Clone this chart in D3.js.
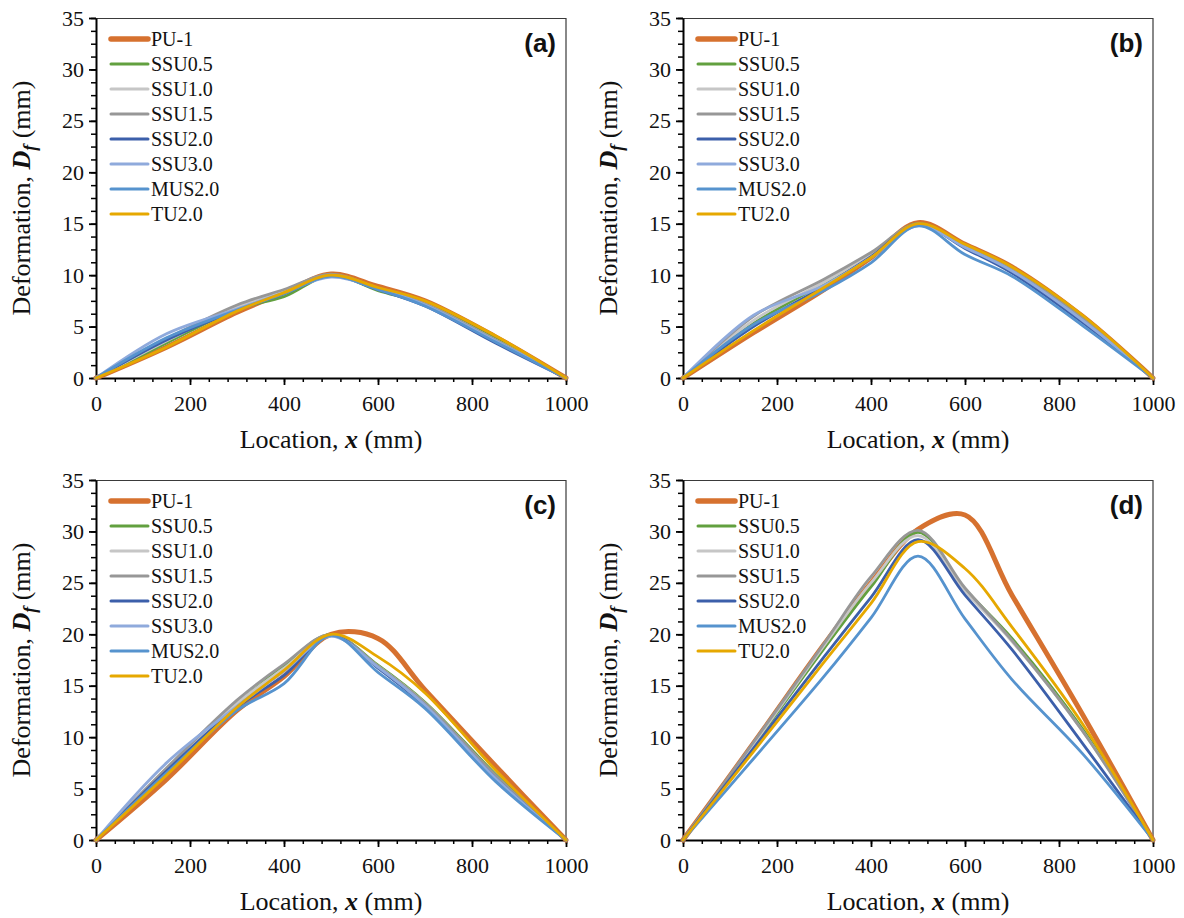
<!DOCTYPE html>
<html>
<head>
<meta charset="utf-8">
<script src="https://cdn.jsdelivr.net/npm/d3@7/dist/d3.min.js"></script>
<style>
  html, body { margin: 0; padding: 0; background: #fff; }
  svg { display: block; }
</style>
</head>
<body>
<svg id="chart" width="1184" height="918"></svg>
<script>
// Gauge locations along the specimen (mm)
const locations = [0, 150, 300, 400, 500, 600, 700, 850, 1000];

const seriesNames = ["PU-1", "SSU0.5", "SSU1.0", "SSU1.5", "SSU2.0", "SSU3.0", "MUS2.0", "TU2.0"];
const seriesColors = ["#D6712F", "#62A03F", "#C6C6C6", "#979797", "#3C5FAA", "#8FAADC", "#5693CE", "#E6A800"];

// Deformation profiles (mm), panel (a)
const panelA_PU1   = [0, 3.0, 6.4, 8.3, 10.1, 8.9, 7.5, 4.0, 0];
const panelA_SSU05 = [0, 3.4, 6.7, 7.9, 10.0, 8.5, 7.2, 3.8, 0];
const panelA_SSU10 = [0, 3.6, 6.9, 8.4, 10.0, 8.7, 7.2, 3.7, 0];
const panelA_SSU15 = [0, 3.8, 7.1, 8.6, 10.1, 8.7, 7.2, 3.7, 0];
const panelA_SSU20 = [0, 3.7, 6.6, 8.2, 9.9, 8.6, 7.0, 3.4, 0];
const panelA_SSU30 = [0, 4.3, 6.7, 8.3, 9.8, 8.7, 7.1, 3.6, 0];
const panelA_MUS20 = [0, 3.9, 6.6, 8.2, 9.9, 8.6, 7.0, 3.5, 0];
const panelA_TU20  = [0, 3.0, 6.5, 8.3, 10.0, 8.8, 7.5, 4.1, 0];

// panel (b)
const panelB_PU1   = [0, 4.4, 8.6, 11.7, 15.1, 13.0, 10.8, 6.0, 0];
const panelB_SSU05 = [0, 5.3, 9.2, 12.0, 15.0, 12.9, 10.7, 6.0, 0];
const panelB_SSU10 = [0, 5.6, 9.3, 12.0, 14.9, 12.8, 10.5, 5.7, 0];
const panelB_SSU15 = [0, 6.0, 9.6, 12.2, 15.0, 12.8, 10.5, 5.8, 0];
const panelB_SSU20 = [0, 5.0, 8.9, 11.8, 14.9, 12.6, 10.2, 5.4, 0];
const panelB_SSU30 = [0, 6.1, 9.0, 11.7, 14.8, 12.7, 10.4, 5.6, 0];
const panelB_MUS20 = [0, 5.2, 8.5, 11.2, 14.8, 12.0, 9.9, 5.1, 0];
const panelB_TU20  = [0, 4.6, 8.8, 11.7, 15.0, 13.0, 10.8, 6.1, 0];

// panel (c)
const panelC_PU1   = [0, 5.9, 12.6, 15.9, 20.0, 19.6, 14.6, 7.2, 0];
const panelC_SSU05 = [0, 6.7, 13.2, 16.9, 20.0, 17.0, 13.4, 6.4, 0];
const panelC_SSU10 = [0, 6.9, 13.3, 16.7, 19.9, 16.9, 13.3, 6.2, 0];
const panelC_SSU15 = [0, 7.0, 13.6, 17.1, 20.0, 16.9, 13.3, 6.3, 0];
const panelC_SSU20 = [0, 6.7, 12.9, 16.0, 19.9, 16.7, 13.0, 6.0, 0];
const panelC_SSU30 = [0, 7.5, 13.0, 16.4, 19.8, 16.8, 13.1, 6.0, 0];
const panelC_MUS20 = [0, 6.5, 12.6, 15.2, 19.9, 16.3, 12.8, 5.7, 0];
const panelC_TU20  = [0, 6.3, 12.9, 16.5, 20.0, 17.8, 14.3, 6.8, 0];

// panel (d) (no SSU3.0 specimen)
const panelD_PU1   = [0, 9.4, 19.0, 25.0, 30.2, 31.6, 23.8, 12.2, 0];
const panelD_SSU05 = [0, 9.2, 18.6, 24.6, 29.9, 24.4, 19.6, 10.8, 0];
const panelD_SSU10 = [0, 9.3, 18.9, 25.0, 29.6, 24.2, 19.3, 10.6, 0];
const panelD_SSU15 = [0, 9.5, 19.1, 25.6, 30.1, 24.5, 19.4, 10.6, 0];
const panelD_SSU20 = [0, 8.9, 17.8, 23.6, 29.2, 23.8, 18.5, 9.4, 0];
const panelD_MUS20 = [0, 7.9, 15.9, 21.6, 27.6, 21.5, 15.6, 8.4, 0];
const panelD_TU20  = [0, 8.6, 17.3, 23.0, 29.0, 26.4, 20.7, 11.3, 0];

const panelLabels = ["(a)", "(b)", "(c)", "(d)"];

const xMajorTicks = [0, 200, 400, 600, 800, 1000];
const yMajorTicks = [0, 5, 10, 15, 20, 25, 30, 35];

const panels = [
  { label: panelLabels[0], series: [panelA_PU1, panelA_SSU05, panelA_SSU10, panelA_SSU15, panelA_SSU20, panelA_SSU30, panelA_MUS20, panelA_TU20] },
  { label: panelLabels[1], series: [panelB_PU1, panelB_SSU05, panelB_SSU10, panelB_SSU15, panelB_SSU20, panelB_SSU30, panelB_MUS20, panelB_TU20] },
  { label: panelLabels[2], series: [panelC_PU1, panelC_SSU05, panelC_SSU10, panelC_SSU15, panelC_SSU20, panelC_SSU30, panelC_MUS20, panelC_TU20] },
  { label: panelLabels[3], series: [panelD_PU1, panelD_SSU05, panelD_SSU10, panelD_SSU15, panelD_SSU20, null, panelD_MUS20, panelD_TU20] }
];

const svg = d3.select("#chart");
svg.append("rect").attr("width", 1184).attr("height", 918).attr("fill", "#fff");

const plotW = 470, plotH = 360;
const offsets = [[96, 18], [683, 18], [96, 480], [683, 480]];
const serif = "'Liberation Serif', 'Times New Roman', serif";

const x = d3.scaleLinear().domain([0, 1000]).range([0, plotW]);
const y = d3.scaleLinear().domain([0, 35]).range([plotH, 0]);

const line = d3.line()
  .x(d => x(d[0]))
  .y(d => y(d[1]))
  .curve(d3.curveCatmullRom.alpha(0.5));

panels.forEach((p, i) => {
  const g = svg.append("g").attr("transform", `translate(${offsets[i][0]},${offsets[i][1]})`);

  // frame (top and right edges)
  g.append("path")
    .attr("d", `M0,0.5H${plotW}V${plotH}`)
    .attr("fill", "none").attr("stroke", "#3a3a3a").attr("stroke-width", 1.2);

  // minor ticks
  const xMinor = d3.axisBottom(x).tickValues(d3.range(0, 1001, 40)).tickSize(4).tickFormat("");
  const yMinor = d3.axisLeft(y).tickValues(d3.range(0, 35.01, 1.25)).tickSize(5).tickFormat("");
  g.append("g").attr("transform", `translate(0,${plotH})`).call(xMinor)
    .call(a => a.select(".domain").remove())
    .selectAll("line").attr("stroke", "#000").attr("stroke-width", 1.5);
  g.append("g").call(yMinor)
    .call(a => a.select(".domain").remove())
    .selectAll("line").attr("stroke", "#000").attr("stroke-width", 1.5);

  // major ticks with labels
  const xAxis = d3.axisBottom(x).tickValues(xMajorTicks).tickFormat(d3.format("d"))
    .tickSize(7).tickPadding(10).tickSizeOuter(0);
  const yAxis = d3.axisLeft(y).tickValues(yMajorTicks).tickFormat(d3.format("d"))
    .tickSize(7).tickPadding(5).tickSizeOuter(0);

  const gx = g.append("g").attr("transform", `translate(0,${plotH})`).call(xAxis);
  gx.select(".domain").attr("stroke", "#000").attr("stroke-width", 2);
  gx.selectAll(".tick line").attr("stroke", "#000").attr("stroke-width", 1.8);
  gx.selectAll(".tick text").attr("font-family", serif).attr("font-size", 22).attr("fill", "#111");

  const gy = g.append("g").call(yAxis);
  gy.select(".domain").attr("stroke", "#000").attr("stroke-width", 2);
  gy.selectAll(".tick line").attr("stroke", "#000").attr("stroke-width", 1.8);
  gy.selectAll(".tick text").attr("font-family", serif).attr("font-size", 22).attr("fill", "#111");

  // series lines
  p.series.forEach((vals, k) => {
    if (!vals) return;
    const pts = locations.map((loc, j) => [loc, vals[j]]);
    g.append("path")
      .attr("d", line(pts))
      .attr("fill", "none")
      .attr("stroke", seriesColors[k])
      .attr("stroke-width", k === 0 ? 5 : 2.8)
      .attr("stroke-linejoin", "round")
      .attr("stroke-linecap", "round");
  });

  // legend
  const entries = seriesNames.map((n, k) => ({ n, k })).filter(e => p.series[e.k]);
  const lg = g.append("g");
  entries.forEach((e, r) => {
    const yy = 21 + r * 25;
    lg.append("line")
      .attr("x1", 15).attr("x2", 52).attr("y1", yy).attr("y2", yy)
      .attr("stroke", seriesColors[e.k])
      .attr("stroke-width", e.k === 0 ? 5.5 : 3)
      .attr("stroke-linecap", "round");
    lg.append("text")
      .attr("x", 55).attr("y", yy).attr("dy", "0.35em")
      .attr("font-family", serif).attr("font-size", 20).attr("fill", "#111")
      .text(e.n);
  });

  // panel label
  g.append("text")
    .attr("x", plotW - 10).attr("y", 34)
    .attr("text-anchor", "end")
    .attr("font-family", "'Liberation Sans', Arial, sans-serif")
    .attr("font-weight", "bold").attr("font-size", 26).attr("fill", "#111")
    .text(p.label);

  // x axis title
  const xt = g.append("text")
    .attr("x", plotW / 2).attr("y", plotH + 70)
    .attr("text-anchor", "middle")
    .attr("font-family", serif).attr("font-size", 26).attr("fill", "#111");
  xt.append("tspan").text("Location, ");
  xt.append("tspan").attr("font-weight", "bold").attr("font-style", "italic").text("x");
  xt.append("tspan").text(" (mm)");

  // y axis title
  const yt = g.append("text")
    .attr("transform", `translate(-66,${plotH / 2}) rotate(-90)`)
    .attr("text-anchor", "middle")
    .attr("font-family", serif).attr("font-size", 26).attr("fill", "#111");
  yt.append("tspan").text("Deformation, ");
  yt.append("tspan").attr("font-weight", "bold").attr("font-style", "italic").text("D");
  yt.append("tspan").attr("font-weight", "bold").attr("font-style", "italic")
    .attr("font-size", 18).attr("dy", 6).text("f");
  yt.append("tspan").attr("dy", -6).text(" (mm)");
});
</script>
</body>
</html>
